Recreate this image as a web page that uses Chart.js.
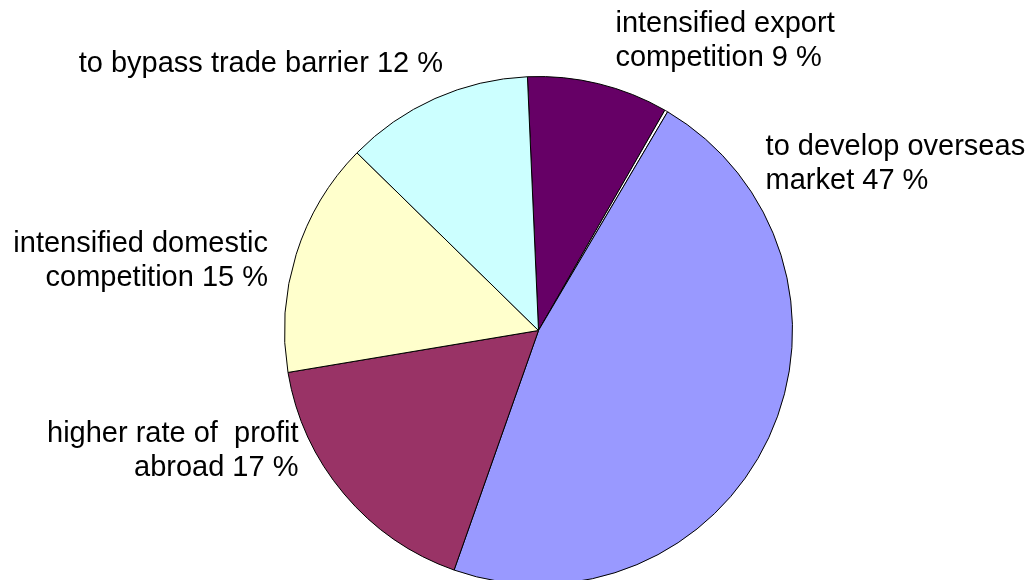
<!DOCTYPE html>
<html>
<head>
<meta charset="utf-8">
<title>Motives for investing abroad</title>
<script src="https://cdn.jsdelivr.net/npm/chart.js@4/dist/chart.umd.min.js"></script>
<style>
  html, body { margin: 0; padding: 0; background: #ffffff; overflow: hidden; }
  #wrap { position: relative; width: 1030px; height: 600px; }
</style>
</head>
<body>
<div id="wrap"><canvas id="pie" width="1030" height="600"></canvas></div>
<script>
// Reasons, each split into the lines of its label (the value is appended to the last line)
const categories = [
  ['intensified export', 'competition'],
  [''],
  ['to develop overseas', 'market'],
  ['higher rate of  profit', 'abroad'],
  ['intensified domestic', 'competition'],
  ['to bypass trade barrier']
];
// Share of responses, in percent (the thin white sliver carries no label)
const shares = [9, 0.2, 47, 17, 15, 12];
const sliceColors = ['#660066', '#FFFFFF', '#9999FF', '#993366', '#FFFFCC', '#CCFFFF'];

// Where each label sits, relative to the pie centre in units of its radius
const labelPlacement = [
  { align: 'left',  ux: 0.303,  uy: -1.174 },
  null,
  { align: 'left',  ux: 0.894,  uy: -0.689 },
  { align: 'right', ux: -0.945, uy: 0.438 },
  { align: 'right', ux: -1.065, uy: -0.310 },
  { align: 'right', ux: -0.376, uy: -1.0165 }
];

const LABEL_FONT = '29px Arial, "Liberation Sans", sans-serif';
const LINE_HEIGHT = 34;

const pieLabels = {
  id: 'pieLabels',
  afterDatasetsDraw(chart) {
    const ctx = chart.ctx;
    const arcs = chart.getDatasetMeta(0).data;
    if (!arcs.length) return;
    const cx = arcs[0].x, cy = arcs[0].y, r = arcs[0].outerRadius;
    ctx.save();
    ctx.font = LABEL_FONT;
    ctx.fillStyle = '#000000';
    ctx.textBaseline = 'alphabetic';
    categories.forEach((lines, i) => {
      const place = labelPlacement[i];
      if (!place) return;
      const text = lines.slice();
      text[text.length - 1] += ' ' + shares[i] + ' %';
      ctx.textAlign = place.align;
      const x = cx + place.ux * r;
      const y = cy + place.uy * r;
      text.forEach((line, k) => ctx.fillText(line, x, y + k * LINE_HEIGHT));
    });
    ctx.restore();
  }
};

new Chart(document.getElementById('pie'), {
  type: 'pie',
  data: {
    labels: categories.map(l => l.join(' ')),
    datasets: [{
      data: shares,
      backgroundColor: sliceColors,
      borderColor: '#000000',
      borderWidth: 1
    }]
  },
  options: {
    responsive: false,
    animation: false,
    rotation: -2.5,
    layout: { padding: { left: 284, right: 237, top: 76, bottom: 15 } },
    plugins: {
      legend: { display: false },
      tooltip: { enabled: false }
    }
  },
  plugins: [pieLabels]
});
</script>
</body>
</html>
